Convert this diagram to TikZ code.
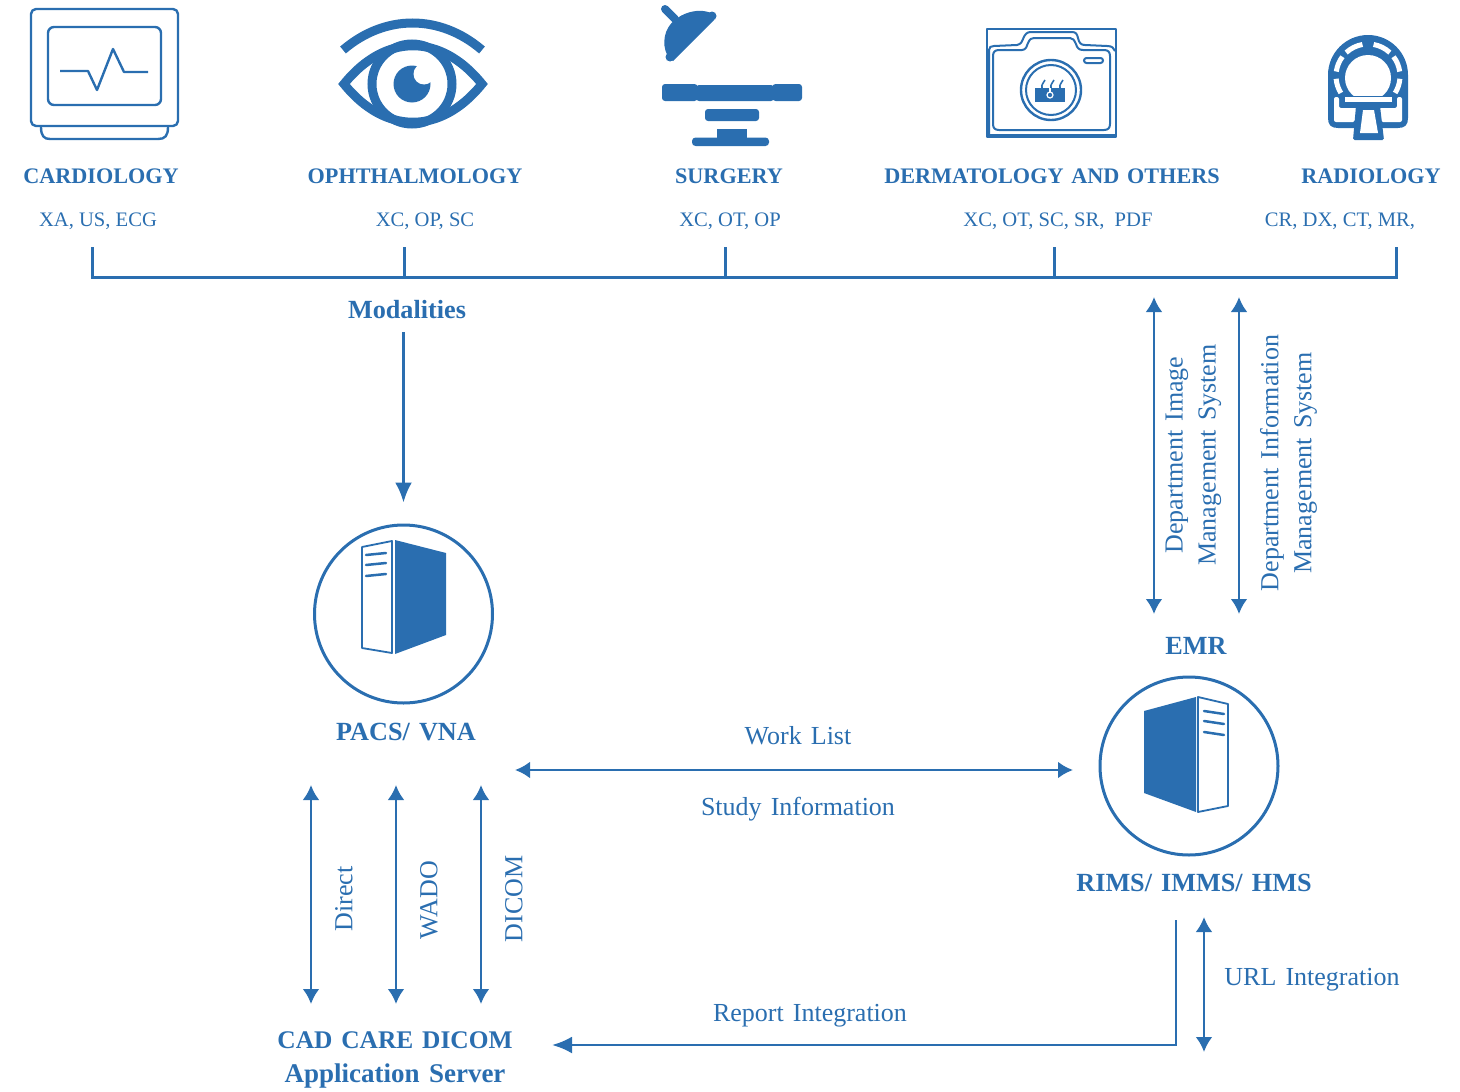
\documentclass[tikz,border=0pt]{standalone}
\usepackage{fontspec}
\setmainfont[WordSpace=1.4]{Liberation Serif}
\newfontfamily\plainser{Liberation Serif}
\usetikzlibrary{arrows.meta}
\definecolor{blu}{HTML}{2A6EB0}
\tikzset{
  ln/.style={draw=blu,line width=3pt},
  arr/.style={draw=blu,line width=2.8pt,-{Latex[length=20pt,width=17pt]}},
  arrb/.style={draw=blu,line width=2.8pt,{Latex[length=15pt,width=17pt]}-{Latex[length=15pt,width=17pt]}},
  ic/.style={draw=blu,line width=2.4pt,line join=round},
  head/.style={text=blu,font=\fontsize{22.2}{26}\selectfont\bfseries,inner sep=0pt},
  sub/.style={text=blu,font=\plainser\fontsize{20.6}{24}\selectfont,inner sep=0pt},
  lab/.style={text=blu,font=\fontsize{26}{33}\selectfont,inner sep=0pt,align=center},
  bold/.style={text=blu,font=\fontsize{26.2}{34}\selectfont\bfseries,inner sep=0pt,align=center},
  ring/.style={circle,draw=blu,line width=3pt,minimum size=178pt,inner sep=0pt},
}
\begin{document}
\begin{tikzpicture}[x=1pt,y=-1pt]
\useasboundingbox (0,0) rectangle (1460,1092);
% cardiology icon
\draw[ic,rounded corners=5pt] (31,9) rectangle (178,126);
\draw[ic,rounded corners=6pt] (48,27) rectangle (161,105);
\draw[ic] (60,71) -- (88,71) -- (97,90) -- (113,49) -- (124,72) -- (148,72);
\draw[ic] (41,127) .. controls (41,136) and (44,139) .. (50,139) -- (158,139) .. controls (165,139) and (168,136) .. (168,127);
% eye icon
\draw[draw=blu,line width=9pt] (343,50) .. controls (385,14) and (440,14) .. (482,50);
\draw[draw=blu,line width=9pt,line join=miter] (344,84) .. controls (385,33) and (441,33) .. (482,84) .. controls (441,135) and (385,135) .. (344,84) -- cycle;
\draw[draw=blu,line width=9pt] (412,84) circle[radius=40];
\fill[blu] (412,84) circle[radius=18.5];
\fill[white] (424,74) circle[radius=10.5];
% surgery icon
\draw[draw=blu,line width=8pt,line cap=round] (665,9) -- (675,19);
\fill[blu] (714,20) -- (673,61) .. controls (663,55) and (662,38) .. (668,28) .. controls (676,14) and (697,7) .. (711,13) -- cycle;
\fill[blu] (712,16) circle[radius=4.5];
\fill[blu] (670,57) circle[radius=4.5];
\fill[blu,rounded corners=3pt] (662,84) rectangle (697.5,101);
\fill[blu,rounded corners=3pt] (696,85) rectangle (774,101);
\fill[blu,rounded corners=3pt] (772.5,84) rectangle (802,101);
\fill[blu,rounded corners=3pt] (705,109) -- (759,109) -- (759,121) -- (705,121) -- cycle;
\fill[blu] (717,129) rectangle (747,140);
\fill[blu,rounded corners=3.5pt] (692,137.5) rectangle (769,146);
% dermatology icon
\draw[ic,line width=2pt] (987,29) rectangle (1116,137);
\fill[blu] (987,134) rectangle (1116,138);
\draw[ic,line width=2pt] (989,136) -- (989,50) .. controls (989,47) and (991,46) .. (994,46) -- (1017,45) .. controls (1021,44) and (1022,42) .. (1023,39) .. controls (1025,34) and (1027,32) .. (1031,32) -- (1072,32) .. controls (1076,32) and (1077,34) .. (1078,38) .. controls (1079,43) and (1081,45) .. (1085,45) -- (1107,46) .. controls (1112,46) and (1114,48) .. (1115,51);
\draw[ic,line width=2pt] (993,56) .. controls (993,52) and (995,50) .. (999,50) -- (1022,50) .. controls (1026,50) and (1027,46) .. (1028,43) .. controls (1030,39) and (1031,38) .. (1034,38) -- (1070,38) .. controls (1073,38) and (1074,40) .. (1076,44) .. controls (1077,48) and (1079,50) .. (1083,50) -- (1104,50) .. controls (1108,50) and (1110,52) .. (1110,56) -- (1110,124) .. controls (1110,128) and (1108,130) .. (1104,130) -- (999,130) .. controls (995,130) and (993,128) .. (993,124) -- cycle;
\draw[draw=blu,line width=2pt,rounded corners=2.5pt] (1084,58) rectangle (1103,63);
\draw[ic] (1051,90) circle[radius=30];
\draw[draw=blu,line width=2pt] (1051,90) circle[radius=25];
\fill[blu] (1035,88) rectangle (1065,102);
\draw[draw=blu,line width=1.6pt] (1042,88) .. controls (1041,84) and (1044,83) .. (1045,80);
\draw[draw=blu,line width=1.6pt] (1051,88) .. controls (1050,84) and (1053,83) .. (1054,80);
\draw[draw=blu,line width=1.6pt] (1060,88) .. controls (1059,84) and (1062,83) .. (1063,80);
\draw[draw=white,line width=1.2pt] (1050,95) circle[radius=3];
\draw[draw=white,line width=1.2pt] (1050,88) -- (1050,92);
% radiology icon
\fill[blu] (1328,75) arc[start angle=180,end angle=360,radius=40] -- (1408,118) .. controls (1408,125) and (1405,128) .. (1398,128) -- (1338,128) .. controls (1331,128) and (1328,125) .. (1328,118) -- cycle;
\foreach \a/\b in {-133/-100,-80/-47,-172/-143,-37/-8,-212/-185,5/32}{
  \draw[draw=white,line width=5pt] (1368,76) ++(\a:32) arc[start angle=\a,end angle=\b,radius=32];
}
\begin{scope}
\clip (1340,50) rectangle (1396,95);
\fill[white] (1368,78) circle[radius=23];
\end{scope}
\fill[white] (1345,97) rectangle (1392,102);
\fill[white,rounded corners=2pt] (1334,97) -- (1339,97) -- (1339,108) -- (1357,108) -- (1355,122) -- (1334,122) -- cycle;
\fill[white,rounded corners=2pt] (1402,97) -- (1397,97) -- (1397,108) -- (1379,108) -- (1381,122) -- (1402,122) -- cycle;
\fill[blu,rounded corners=1.5pt] (1356,106) -- (1380,106) -- (1384,140) -- (1353,140) -- cycle;
\fill[white] (1363,110) -- (1374,110) -- (1378,133) -- (1360,133) -- cycle;
% headings
\node[head] (hcard) at (101,176) {CARDIOLOGY};
\node[head] (hoph) at (415,176) {OPHTHALMOLOGY};
\node[head] (hsur) at (729,176) {SURGERY};
\node[head] (hder) at (1052,176) {DERMATOLOGY AND OTHERS};
\node[head] (hrad) at (1371,176) {RADIOLOGY};
\node[sub] (scard) at (98,221) {XA, US, ECG};
\node[sub] (soph) at (425,221) {XC, OP, SC};
\node[sub] (ssur) at (730,221) {XC, OT, OP};
\node[sub] (sder) at (1058,221) {XC, OT, SC, SR,\ \ PDF};
\node[sub] (srad) at (1340,221) {CR, DX, CT, MR,};
% modalities bus
\coordinate (b1) at (92,247);
\coordinate (b2) at (404,247);
\coordinate (b3) at (725,247);
\coordinate (b4) at (1054,247);
\coordinate (b5) at (1396,247);
\coordinate (bl) at (92,277);
\coordinate (br) at (1396,277);
\draw[ln] (b1) -- (bl) -- (br) -- (b5);
\draw[ln] (b2) -- (b2 |- bl);
\draw[ln] (b3) -- (b3 |- bl);
\draw[ln] (b4) -- (b4 |- bl);
\node[bold] (mod) at (407,310) {Modalities};
% servers
\node[ring] (pacs) at (403.5,614) {};
\fill[blu] (395,540) -- (446,553) -- (446,635) -- (395,654) -- cycle;
\draw[ic,line width=1.8pt] (362,547) -- (392,541) -- (392,653) -- (362,648) -- cycle;
\draw[draw=blu,line width=2.5pt,line cap=round] (366,555) -- (386,553) (366,565) -- (386,563) (366,576) -- (386,574);
\node[bold] (pacsl) at (406,732) {PACS/ VNA};
\node[ring] (rims) at (1189,766) {};
\fill[blu] (1144,711) -- (1196,697) -- (1196,812) -- (1144,793) -- cycle;
\draw[ic,line width=1.8pt] (1198,697) -- (1228,704) -- (1228,806) -- (1198,812) -- cycle;
\draw[draw=blu,line width=2.5pt,line cap=round] (1204,711) -- (1224,714) (1204,721) -- (1224,724) (1204,732) -- (1224,735);
\node[bold] (emr) at (1196,646) {EMR};
\node[bold] (rimsl) at (1194,883) {RIMS/ IMMS/ HMS};
\node[bold] (cad) at (395,1060) {{\fontsize{25.4}{34}\selectfont CAD CARE DICOM}\\{\fontsize{27}{34}\selectfont Application Server}};
% Modalities to PACS
\draw[arr,shorten <=13pt,shorten >=21pt] (mod.south -| pacs.north) -- (pacs.north);
% DIMS / DIS
\coordinate (e1t) at (1154,297);
\coordinate (e1b) at (1154,614);
\coordinate (e2t) at (1239,297);
\coordinate (e2b) at (1239,614);
\draw[arrb] (e1t) -- (e1b);
\draw[arrb] (e2t) -- (e2b);
\node[lab,rotate=90] (dims) at (1193.5,455) {Department Image\\Management System};
\node[lab,rotate=90] (dis) at (1288.5,463) {Department Information\\Management System};
% Work list
\coordinate (wl) at (515,770);
\coordinate (wr) at (1073,770);
\draw[arrb] (wl) -- (wr);
\node[lab] (wlt) at (798,736) {Work List};
\node[lab] (sit) at (798,809) {Study Information};
% PACS to CAD
\coordinate (c1t) at (311,785);
\coordinate (c1b) at (311,1004);
\coordinate (c2t) at (396,785);
\coordinate (c2b) at (396,1004);
\coordinate (c3t) at (481,785);
\coordinate (c3b) at (481,1004);
\draw[arrb] (c1t) -- (c1b);
\draw[arrb] (c2t) -- (c2b);
\draw[arrb] (c3t) -- (c3b);
\node[lab,rotate=90] (tdir) at (344,899) {Direct};
\node[lab,rotate=90] (twad) at (429,900) {WADO};
\node[lab,rotate=90] (tdic) at (514,899) {DICOM};
% report + URL
\coordinate (rt) at (1176,920);
\coordinate (rb) at (1176,1045);
\coordinate (rl) at (552,1045);
\draw[arr] (rt) -- (rb) -- (rl);
\coordinate (ut) at (1204,917);
\coordinate (ub) at (1204,1052);
\draw[arrb] (ut) -- (ub);
\node[lab] (turl) at (1312,980) {URL Integration};
\node[lab] (trep) at (810,1016) {Report Integration};
\end{tikzpicture}
\end{document}
